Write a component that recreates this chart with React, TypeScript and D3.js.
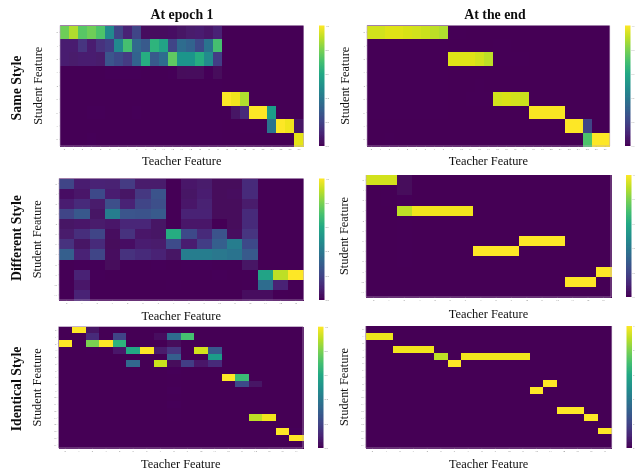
import React from "react";
import * as d3 from "d3";

const WIDTH = 635;
const HEIGHT = 469;

const columnTitles = ["At epoch 1", "At the end"];
const rowTitles = ["Same Style", "Different Style", "Identical Style"];
const xAxisLabel = "Teacher Feature";
const yAxisLabel = "Student Feature";
const colorbarTicks = [0, 0.2, 0.4, 0.6, 0.8, 1];

const sameEpoch1: number[][] = [
  [.78,.88,.74,.78,.72,.47,.2,.1,.2,.03,.03,.03,.04,.05,.07,.08,.06,.1,0,0,0,0,0,0,0,0,0],
  [.08,.08,.15,.08,.14,.18,.47,.7,.33,.28,.65,.58,.2,.35,.32,.22,.38,.7,0,0,0,0,0,0,0,0,0],
  [.08,.07,.08,.08,.07,.26,.22,.17,.32,.62,.28,.35,.75,.52,.52,.62,.48,.18,0,0,0,0,0,0,0,0,0],
  [.008,.008,.008,.006,.004,.015,.012,.012,.012,.008,.008,.008,.012,.02,.025,.025,.012,.02,0,0,0,0,0,0,0,0,0],
  [.006,.006,.006,.006,.004,.004,.006,.006,.008,.004,.004,.004,.004,.004,.004,.004,.004,.004,0,0,0,0,0,0,0,0,0],
  [.006,.006,.006,.006,.004,.004,.004,.006,.008,.004,.004,.004,.004,.004,.008,.004,.004,.004,1,.98,.88,0,0,0,0,0,0],
  [.008,.004,.008,.012,.012,.008,.008,.008,.012,.004,.004,.004,.004,.004,.004,.004,.004,.004,.004,.05,.12,1,1,.55,0,0,0],
  [.008,.004,.004,.008,.008,.004,.004,.004,.008,.004,.004,.004,.004,.004,.004,.004,.004,.004,0,0,.004,.004,.004,.38,1,.98,.05],
  [.004,.004,.008,.015,.004,.004,.004,.004,.004,.004,.004,.004,.004,.004,.004,.004,.004,.004,0,0,0,0,0,0,0,0,.96],
];

const sameEnd: number[][] = [
  [.93,.93,.95,.95,.94,.93,.92,.9,.88,.004,.004,0,0,0,0,0,0,0,0,0,0,0,0,0,0,0,0],
  [.004,.004,.004,.004,.004,.004,.004,.004,.004,0,0,0,0,0,.004,.004,0,0,0,0,0,0,0,0,0,0,0],
  [.004,.004,.004,.004,.004,.004,.004,.004,.004,.95,.95,.95,.93,.9,.004,.004,.004,.004,0,0,0,0,0,0,0,0,0],
  [.004,.004,.004,.004,.004,.004,.004,.004,.004,0,0,0,0,0,0,0,0,0,0,0,0,0,0,0,0,0,0],
  [.004,.004,.006,.004,.004,.004,.004,.004,.004,0,0,0,.004,0,0,0,0,0,0,0,0,0,0,0,0,0,0],
  [.004,.004,.006,.004,.004,.004,.004,.004,.004,0,0,.004,.004,.004,.93,.94,.93,.92,0,0,0,0,0,0,0,0,0],
  [.004,.004,.004,.004,.004,.004,.004,.006,.006,0,0,0,0,0,0,0,0,0,.99,.99,.99,.99,0,0,0,0,0],
  [0,0,0,0,0,0,0,0,0,0,0,0,0,0,0,0,0,0,0,0,0,0,1,1,.2,0,0],
  [0,0,.004,0,0,0,0,0,0,0,0,0,0,0,0,0,0,0,0,0,0,0,0,0,.72,1,1],
];

const differentEpoch1: number[][] = [
  [.2,.08,.1,.09,.17,.07,.07,.008,.06,.07,.02,.02,.12,0,0,0],
  [.04,.06,.22,.08,.05,.16,.25,.008,.05,.08,.02,.03,.12,0,0,0],
  [.08,.12,.07,.24,.1,.2,.24,.008,.06,.09,.02,.02,.07,0,0,0],
  [.2,.27,.05,.42,.26,.25,.28,.008,.1,.1,.02,.02,.12,0,0,0],
  [.05,.06,.07,.06,.11,.11,.05,.008,.06,.06,.01,.02,.12,0,0,0],
  [.07,.13,.2,.03,.14,.06,.05,.62,.22,.12,.25,.03,.15,0,0,0],
  [.14,.05,.12,.02,.04,.08,.07,.23,.08,.18,.3,.42,.22,0,0,0],
  [.3,.1,.2,.03,.14,.12,.1,.05,.42,.42,.4,.38,.28,0,0,0],
  [.008,.015,.015,.02,.004,.008,.015,.008,.015,.015,.008,.008,.05,0,0,0],
  [.008,.1,.015,.008,.008,.008,.008,.008,.008,.008,.015,.008,.008,.58,.9,1],
  [.008,.06,.008,.008,0,0,0,.008,0,0,0,0,.008,.35,.1,.008],
  [.008,.1,.008,.008,0,0,0,0,0,0,0,0,.03,.03,.008,0],
];

const differentEnd: number[][] = [
  [.93,.93,.02,0,0,0,0,0,0,0,0,0,0,0,0,0],
  [0,.004,.02,0,0,0,0,0,0,0,0,0,0,0,0,0],
  [0,.004,.015,0,0,0,0,0,0,0,0,0,0,0,0,0],
  [0,0,.9,.98,.98,.98,.98,0,0,0,0,0,0,0,0,0],
  [0,0,.008,0,0,0,0,0,0,0,0,0,0,0,0,0],
  [0,0,.008,0,0,0,0,0,0,0,0,0,0,0,0,0],
  [0,0,.008,0,0,0,0,0,0,0,1,1,1,0,0,0],
  [0,0,.008,0,0,0,0,1,1,1,0,0,0,0,0,0],
  [0,0,.004,0,0,0,0,0,0,0,0,0,0,0,0,0],
  [0,0,0,0,0,0,0,0,0,0,0,0,0,0,0,1],
  [0,0,0,0,0,0,0,0,0,0,0,0,0,1,1,0],
  [0,0,0,0,0,0,0,0,0,0,0,0,0,0,0,0],
];

const identicalEpoch1: number[][] = [
  [0,1,.05,0,0,0,0,0,0,0,0,0,0,0,0,0,0,0],
  [0,0,.12,0,.2,0,0,.03,.35,.7,0,0,0,0,0,0,0,0],
  [1,0,.8,1,.65,0,0,0,.02,0,0,0,0,0,0,0,0,0],
  [0,0,.008,0,.06,.6,1,.07,.15,0,.93,.27,0,0,0,0,0,0],
  [0,0,0,0,0,0,0,0,.3,0,.008,.55,0,0,0,0,0,0],
  [0,0,0,0,0,.33,0,.92,.02,.18,.06,.12,0,0,0,0,0,0],
  [0,0,0,0,0,0,0,0,.012,0,0,0,0,0,0,0,0,0],
  [0,0,0,0,0,0,0,0,.004,0,0,0,1,.68,0,0,0,0],
  [0,0,0,0,0,0,0,0,.004,0,0,0,0,.22,.05,0,0,0],
  [0,0,0,0,0,0,0,0,.012,0,0,0,0,0,0,0,0,0],
  [0,0,0,0,0,0,0,0,.004,0,0,0,0,0,0,0,0,0],
  [0,0,0,0,0,0,0,0,.015,0,0,0,0,0,0,0,0,0],
  [0,0,0,0,0,0,0,0,.004,0,0,0,0,0,0,0,0,0],
  [0,0,0,0,0,0,0,0,.004,0,0,0,0,0,.9,.98,0,0],
  [0,0,0,0,0,0,0,0,0,0,0,0,0,0,0,0,0,0],
  [0,0,0,0,0,0,0,0,0,0,0,0,0,0,0,0,1,.015],
  [0,0,0,0,0,0,0,0,0,0,0,0,0,0,0,0,.008,1],
  [0,0,0,0,0,0,0,0,0,0,0,0,0,0,0,0,0,0],
];

const identicalEnd: number[][] = [
  [0,0,0,0,0,0,0,0,0,0,0,0,0,0,0,0,0,0],
  [.97,.97,0,0,0,0,0,0,0,0,0,0,0,0,0,0,0,0],
  [0,0,0,0,0,0,0,0,0,0,0,0,0,0,0,0,0,0],
  [0,0,.98,.98,.98,0,0,0,0,0,0,0,0,0,0,0,0,0],
  [0,0,0,0,0,.9,0,.98,.98,.98,.98,.98,0,0,0,0,0,0],
  [0,0,0,0,0,0,1,0,0,0,0,0,0,0,0,0,0,0],
  [0,0,0,0,0,0,0,0,0,0,0,0,0,0,0,0,0,0],
  [0,0,0,0,0,0,0,0,0,0,0,0,0,0,0,0,0,0],
  [0,0,0,0,0,0,0,0,0,0,0,0,0,1,0,0,0,0],
  [0,0,0,0,0,0,0,0,0,0,0,0,1,0,0,0,0,0],
  [0,0,0,0,0,0,0,0,0,0,0,0,0,0,0,0,0,0],
  [0,0,0,0,0,0,0,0,0,0,0,0,0,0,0,0,0,0],
  [0,0,0,0,0,0,0,0,0,0,0,0,0,0,1,1,0,0],
  [0,0,0,0,0,0,0,0,0,0,0,0,0,0,0,0,1,0],
  [0,0,0,0,0,0,0,0,0,0,0,0,0,0,0,0,0,0],
  [0,0,0,0,0,0,0,0,0,0,0,0,0,0,0,0,0,1],
  [0,0,0,0,0,0,0,0,0,0,0,0,0,0,0,0,0,0],
  [0,0,0,0,0,0,0,0,0,0,0,0,0,0,0,0,0,0],
];

const matrices = [sameEpoch1, sameEnd, differentEpoch1, differentEnd, identicalEpoch1, identicalEnd];

// Layout of each panel, kept apart from the data
const frames = [
  { x0: 60, x1: 303.5, y0: 25.5, y1: 146, cb: 319, lab: 165 },
  { x0: 367, x1: 609.7, y0: 25.5, y1: 146, cb: 625, lab: 165 },
  { x0: 59, x1: 303.5, y0: 178.5, y1: 300, cb: 319, lab: 320 },
  { x0: 366, x1: 611, y0: 175, y1: 297, cb: 626, lab: 318 },
  { x0: 58.5, x1: 303, y0: 326.7, y1: 448, cb: 318, lab: 467.5 },
  { x0: 365.7, x1: 611.7, y0: 326, y1: 448, cb: 626.5, lab: 467.5 },
];

const SERIF = "'Liberation Serif', serif";
const color = d3.scaleSequential(d3.interpolateViridis).domain([0, 1]);

function Heatmap({ data, f, id }: { data: number[][]; f: (typeof frames)[number]; id: number }) {
  const cols = d3.range(data[0].length);
  const rows = d3.range(data.length);
  const x = d3.scaleBand<number>().domain(cols).range([f.x0, f.x1]);
  const y = d3.scaleBand<number>().domain(rows).range([f.y0, f.y1]);
  const cbY = d3.scaleLinear().domain([0, 1]).range([f.y1, f.y0]);
  const cbW = 5.5;
  const stops = d3.range(0, 1.0001, 0.1);
  const right = f.cb > 600;
  return (
    <g>
      <rect x={f.x0} y={f.y0} width={f.x1 - f.x0} height={f.y1 - f.y0} fill={color(0)} />
      <g shapeRendering="crispEdges">
        {rows.map((r) =>
          cols.map((c) => (
            <rect key={`${r}-${c}`} x={x(c)} y={y(r)} width={x.bandwidth() + 0.5} height={y.bandwidth() + 0.5} fill={color(data[r][c])} />
          ))
        )}
      </g>
      <path d={`M${f.x0} ${f.y0}V${f.y1}H${f.x1}V${f.y0}`} fill="none" stroke="#bda6c6" strokeWidth={0.6} />
      {cols.map((c) => (
        <g key={c}>
          <line x1={x(c)! + x.bandwidth() / 2} x2={x(c)! + x.bandwidth() / 2} y1={f.y1} y2={f.y1 + 1} stroke="#999" strokeWidth={0.25} />
          <text x={x(c)! + x.bandwidth() / 2} y={f.y1 + 4.4} fontSize={2.8} fontFamily={SERIF} fill="#888" textAnchor="middle">
            {c}
          </text>
        </g>
      ))}
      {rows.map((r) => (
        <g key={r}>
          <line x1={f.x0 - 1} x2={f.x0} y1={y(r)! + y.bandwidth() / 2} y2={y(r)! + y.bandwidth() / 2} stroke="#999" strokeWidth={0.25} />
          <text x={f.x0 - 2} y={y(r)! + y.bandwidth() / 2 + 1} fontSize={2.8} fontFamily={SERIF} fill="#888" textAnchor="end">
            {r}
          </text>
        </g>
      ))}
      <defs>
        <linearGradient id={`cb${id}`} x1="0" x2="0" y1="1" y2="0">
          {stops.map((s) => (
            <stop key={s} offset={s} stopColor={color(s)} />
          ))}
        </linearGradient>
      </defs>
      <rect x={f.cb} y={f.y0} width={cbW} height={f.y1 - f.y0} fill={`url(#cb${id})`} />
      {colorbarTicks.map((t) => (
        <text key={t} x={f.cb + cbW + 1} y={cbY(t) + 1} fontSize={right ? 2.2 : 2.8} fontFamily={SERIF} fill="#888">
          {t.toFixed(1)}
        </text>
      ))}
      <text x={(f.x0 + f.x1) / 2} y={f.lab} fontFamily={SERIF} fontSize={12.4} textAnchor="middle" fill="#111">
        {xAxisLabel}
      </text>
      <text
        transform={`translate(${f.x0 - 18},${(f.y0 + f.y1) / 2}) rotate(-90)`}
        fontFamily={SERIF}
        fontSize={12.4}
        textAnchor="middle"
        fill="#111"
      >
        {yAxisLabel}
      </text>
    </g>
  );
}

export default function App() {
  return (
    <svg
      width={WIDTH}
      height={HEIGHT}
      viewBox={`0 0 ${WIDTH} ${HEIGHT}`}
      style={{ position: "absolute", left: 0, top: 0, display: "block", background: "#fff" }}
    >
      <defs>
        <filter id="soft" x="0" y="0" width="100%" height="100%">
          <feGaussianBlur stdDeviation={0.4} />
        </filter>
      </defs>
      <g filter="url(#soft)">
        {matrices.map((m, i) => (
          <Heatmap key={i} data={m} f={frames[i]} id={i} />
        ))}
        {columnTitles.map((t, i) => (
          <text key={t} x={[182, 495][i]} y={19} fontFamily={SERIF} fontWeight="bold" fontSize={13.8} textAnchor="middle" fill="#111">
            {t}
          </text>
        ))}
        {rowTitles.map((t, i) => (
          <text
            key={t}
            transform={`translate(21,${[88, 238, 389][i]}) rotate(-90)`}
            fontFamily={SERIF}
            fontWeight="bold"
            fontSize={13.8}
            textAnchor="middle"
            fill="#111"
          >
            {t}
          </text>
        ))}
      </g>
    </svg>
  );
}
